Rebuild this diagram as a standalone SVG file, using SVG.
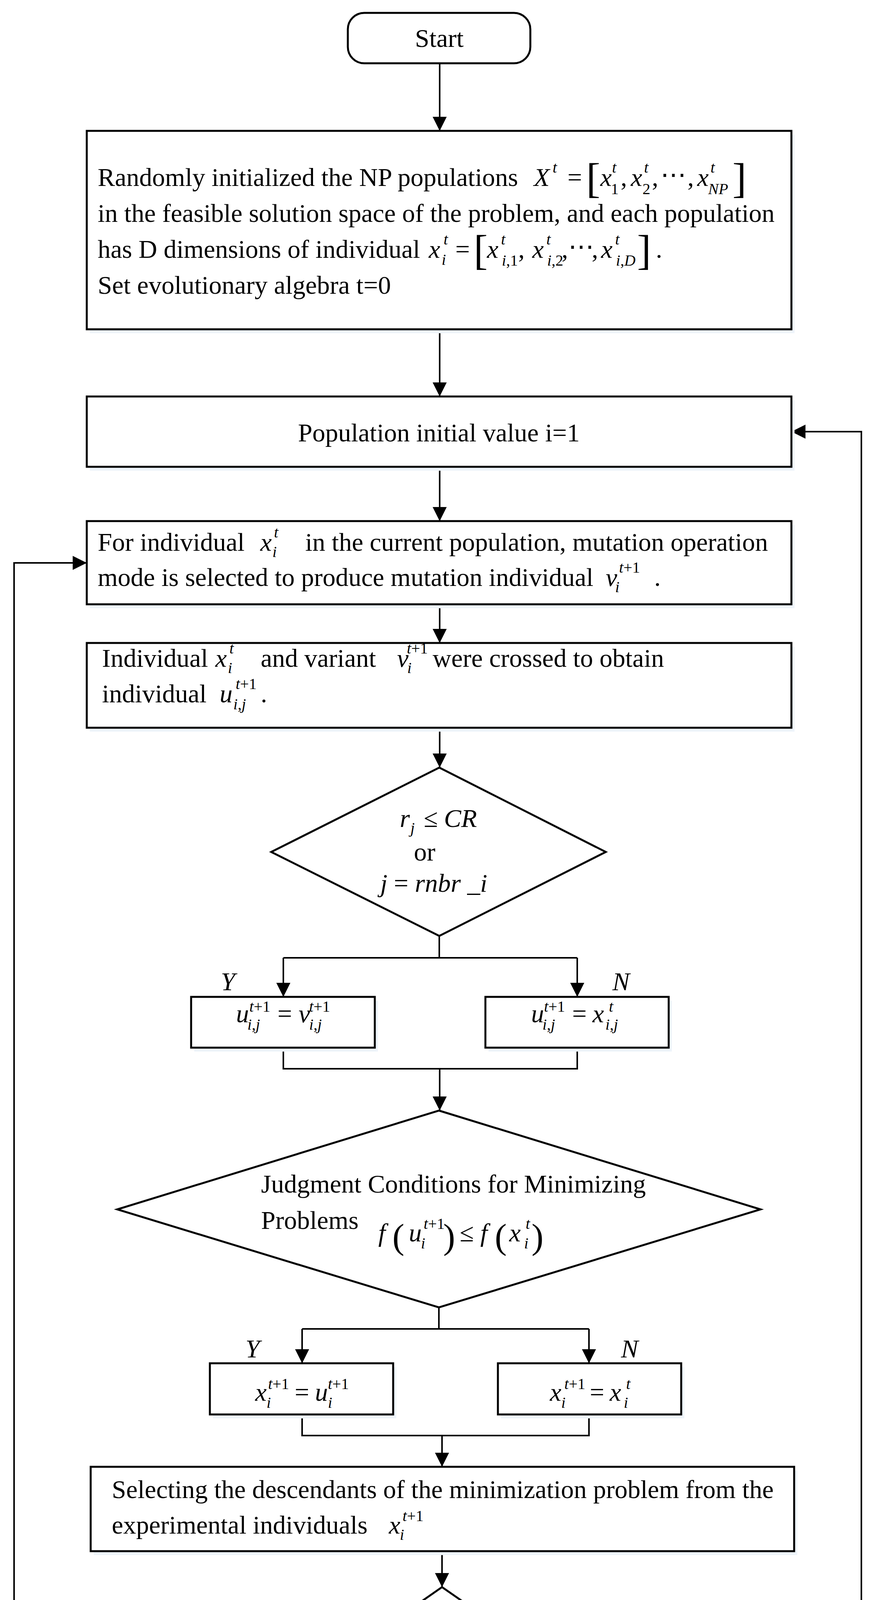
<svg xmlns="http://www.w3.org/2000/svg" width="2244" height="5654" viewBox="0 0 2244 5654">
<style>
.bg{fill:#fff}
.box{fill:#fff;stroke:#000;stroke-width:5}
.sh{fill:#eef4fa}
.ln{fill:none;stroke:#000;stroke-width:4}
.t{font-family:"Liberation Serif","Times New Roman",serif;font-size:66px;fill:#000}
.i{font-style:italic}
.s{font-size:40px}
.br{font-size:108px}
.pr{font-size:92px}
.c{text-anchor:middle}
</style>
<defs>
<marker id="ah" markerUnits="userSpaceOnUse" markerWidth="36" markerHeight="36" refX="36" refY="18" orient="auto" viewBox="0 0 36 36">
<path d="M0,0 L36,18 L0,36 z" fill="#000"/>
</marker>
</defs>
<rect class="bg" x="0" y="0" width="2244" height="5654"/>

<g id="connectors">
<path class="ln" d="M1125,162 V335" marker-end="url(#ah)"/>
<path class="ln" d="M1125,843 V1015" marker-end="url(#ah)"/>
<path class="ln" d="M1125,1195 V1334" marker-end="url(#ah)"/>
<path class="ln" d="M1125,1547 V1646" marker-end="url(#ah)"/>
<path class="ln" d="M1125,1863 V1965" marker-end="url(#ah)"/>
<path class="ln" d="M1124,2396 V2452"/>
<path class="ln" d="M725,2452 H1477"/>
<path class="ln" d="M725,2452 V2552" marker-end="url(#ah)"/>
<path class="ln" d="M1477,2452 V2552" marker-end="url(#ah)"/>
<path class="ln" d="M725,2682 V2736 H1477 V2682"/>
<path class="ln" d="M1125,2736 V2843" marker-end="url(#ah)"/>
<path class="ln" d="M1123,3347 V3402"/>
<path class="ln" d="M773,3402 H1507"/>
<path class="ln" d="M773,3402 V3490" marker-end="url(#ah)"/>
<path class="ln" d="M1507,3402 V3490" marker-end="url(#ah)"/>
<path class="ln" d="M773,3621 V3675 H1507 V3621"/>
<path class="ln" d="M1131,3675 V3755" marker-end="url(#ah)"/>
<path class="ln" d="M1131,3971 V4063" marker-end="url(#ah)"/>
<path class="ln" d="M820,4280 H36 V1441 H222" marker-end="url(#ah)"/>
<path class="ln" d="M1131,4497 V4589" marker-end="url(#ah)"/>
<path class="ln" d="M1131,4705 V4826" marker-end="url(#ah)"/>
<path class="ln" d="M1677,5043 H2204 V1105 H2025" marker-end="url(#ah)"/>
<path class="ln" d="M1131,5260 V5404" marker-end="url(#ah)"/>
<text class="t i" x="565" y="2535">Y</text>
<text class="t i" x="1567" y="2535">N</text>
<text class="t i" x="628" y="3475">Y</text>
<text class="t i" x="1589" y="3475">N</text>
<text class="t i" x="751" y="4248">Y</text>
<text class="t i" x="1173" y="4554">N</text>
<text class="t i" x="1724" y="5026">N</text>
<text class="t i" x="1195" y="5352">Y</text>
</g>

<g id="start">
<rect class="box" x="890" y="33" width="467" height="129" rx="42"/>
<text class="t c" x="1124" y="120">Start</text>
</g>

<g id="init">
<rect class="sh" x="230" y="345" width="1803" height="508"/>
<rect class="box" x="222" y="335" width="1803" height="508"/>
<text class="t" x="250" y="476">Randomly initialized the NP populations</text>
<text class="t i" x="1366" y="476">X</text>
<text class="t i s" x="1414" y="442">t</text>
<text class="t" x="1452" y="476">=</text>
<text class="t br" x="1500" y="493">[</text>
<text class="t i" x="1536" y="476">x</text>
<text class="t i s" x="1566" y="442">t</text>
<text class="t s" x="1563" y="497">1</text>
<text class="t" x="1588" y="476">,</text>
<text class="t i" x="1614" y="476">x</text>
<text class="t i s" x="1648" y="442">t</text>
<text class="t s" x="1644" y="497">2</text>
<text class="t" x="1668" y="476">,</text>
<text class="t" x="1690" y="470" font-family="DejaVu Serif" font-size="44">⋯</text>
<text class="t" x="1759" y="476">,</text>
<text class="t i" x="1784" y="476">x</text>
<text class="t i s" x="1818" y="442">t</text>
<text class="t i s" x="1812" y="497">NP</text>
<text class="t br" x="1874" y="493">]</text>
<text class="t" x="250" y="568">in the feasible solution space of the problem, and each population</text>
<text class="t" x="250" y="660">has D dimensions of individual</text>
<text class="t i" x="1097" y="660">x</text>
<text class="t i s" x="1135" y="626">t</text>
<text class="t i s" x="1130" y="678">i</text>
<text class="t" x="1165" y="660">=</text>
<text class="t br" x="1212" y="677">[</text>
<text class="t i" x="1246" y="660">x</text>
<text class="t i s" x="1282" y="626">t</text>
<text class="t s" x="1284" y="680"><tspan class="i">i</tspan>,1</text>
<text class="t" x="1326" y="660">,</text>
<text class="t i" x="1362" y="660">x</text>
<text class="t i s" x="1398" y="626">t</text>
<text class="t s" x="1400" y="680"><tspan class="i">i</tspan>,2</text>
<text class="t" x="1437" y="660">,</text>
<text class="t" x="1454" y="654" font-family="DejaVu Serif" font-size="44">⋯</text>
<text class="t" x="1514" y="660">,</text>
<text class="t i" x="1538" y="660">x</text>
<text class="t i s" x="1574" y="626">t</text>
<text class="t i s" x="1576" y="680">i<tspan font-style="normal">,</tspan>D</text>
<text class="t br" x="1630" y="677">]</text>
<text class="t" x="1678" y="660">.</text>
<text class="t" x="250" y="752">Set evolutionary algebra t=0</text>
</g>

<g id="pop-init">
<rect class="sh" x="230" y="1025" width="1803" height="180"/>
<rect class="box" x="222" y="1015" width="1803" height="180"/>
<text class="t c" x="1123" y="1130">Population initial value i=1</text>
</g>

<g id="mutation">
<rect class="sh" x="230" y="1344" width="1803" height="213"/>
<rect class="box" x="222" y="1334" width="1803" height="213"/>
<text class="t" x="250" y="1410">For individual</text>
<text class="t i" x="666" y="1410">x</text>
<text class="t i s" x="701" y="1376">t</text>
<text class="t i s" x="697" y="1426">i</text>
<text class="t" x="781" y="1410">in the current population, mutation operation</text>
<text class="t" x="250" y="1500">mode is selected to produce mutation individual</text>
<text class="t i" x="1550" y="1500">v</text>
<text class="t s" x="1584" y="1466"><tspan class="i">t</tspan>+1</text>
<text class="t i s" x="1574" y="1516">i</text>
<text class="t" x="1674" y="1500">.</text>
</g>

<g id="crossover">
<rect class="sh" x="230" y="1656" width="1803" height="217"/>
<rect class="box" x="222" y="1646" width="1803" height="217"/>
<text class="t" x="261" y="1707">Individual</text>
<text class="t i" x="551" y="1707">x</text>
<text class="t i s" x="587" y="1673">t</text>
<text class="t i s" x="583" y="1723">i</text>
<text class="t" x="667" y="1707">and variant</text>
<text class="t i" x="1016" y="1707">v</text>
<text class="t s" x="1041" y="1673"><tspan class="i">t</tspan>+1</text>
<text class="t i s" x="1042" y="1723">i</text>
<text class="t" x="1107" y="1707">were crossed to obtain</text>
<text class="t" x="261" y="1798">individual</text>
<text class="t i" x="562" y="1798">u</text>
<text class="t s" x="603" y="1764"><tspan class="i">t</tspan>+1</text>
<text class="t i s" x="597" y="1816">i<tspan font-style="normal">,</tspan>j</text>
<text class="t" x="667" y="1798">.</text>
</g>

<g id="decision-cr">
<polygon class="box" points="1124,1965 1550,2181 1124,2396 694,2181"/>
<text class="t i" x="1023" y="2117">r</text>
<text class="t i s" x="1050" y="2133">j</text>
<text class="t" x="1084" y="2117">≤</text>
<text class="t i" x="1136" y="2117">CR</text>
<text class="t" x="1059" y="2203">or</text>
<text class="t" x="973" y="2283"><tspan class="i">j</tspan> = <tspan class="i">rnbr</tspan> _<tspan class="i">i</tspan></text>
</g>

<g id="u-eq-v">
<rect class="sh" x="497" y="2562" width="470" height="130"/>
<rect class="box" x="489" y="2552" width="470" height="130"/>
<text class="t i" x="604" y="2617">u</text>
<text class="t s" x="638" y="2590"><tspan class="i">t</tspan>+1</text>
<text class="t i s" x="633" y="2636">i<tspan font-style="normal">,</tspan>j</text>
<text class="t" x="710" y="2617">=</text>
<text class="t i" x="764" y="2617">v</text>
<text class="t s" x="791" y="2590"><tspan class="i">t</tspan>+1</text>
<text class="t i s" x="791" y="2636">i<tspan font-style="normal">,</tspan>j</text>
</g>

<g id="u-eq-x">
<rect class="sh" x="1250" y="2562" width="469" height="130"/>
<rect class="box" x="1242" y="2552" width="469" height="130"/>
<text class="t i" x="1359" y="2617">u</text>
<text class="t s" x="1392" y="2590"><tspan class="i">t</tspan>+1</text>
<text class="t i s" x="1388" y="2636">i<tspan font-style="normal">,</tspan>j</text>
<text class="t" x="1464" y="2617">=</text>
<text class="t i" x="1516" y="2617">x</text>
<text class="t i s" x="1558" y="2590">t</text>
<text class="t i s" x="1549" y="2636">i<tspan font-style="normal">,</tspan>j</text>
</g>

<g id="decision-min">
<polygon class="box" points="1123,2843 1946,3096 1123,3347 300,3096"/>
<text class="t" x="668" y="3053">Judgment Conditions for Minimizing</text>
<text class="t" x="668" y="3146">Problems</text>
<text class="t i" x="968" y="3178">f</text>
<text class="t pr" x="1004" y="3196">(</text>
<text class="t i" x="1046" y="3178">u</text>
<text class="t s" x="1084" y="3146"><tspan class="i">t</tspan>+1</text>
<text class="t i s" x="1077" y="3196">i</text>
<text class="t pr" x="1134" y="3196">)</text>
<text class="t" x="1176" y="3178">≤</text>
<text class="t i" x="1229" y="3178">f</text>
<text class="t pr" x="1266" y="3196">(</text>
<text class="t i" x="1303" y="3178">x</text>
<text class="t i s" x="1345" y="3146">t</text>
<text class="t i s" x="1341" y="3196">i</text>
<text class="t pr" x="1360" y="3196">)</text>
</g>

<g id="x-eq-u">
<rect class="sh" x="545" y="3500" width="469" height="131"/>
<rect class="box" x="537" y="3490" width="469" height="131"/>
<text class="t i" x="653" y="3586">x</text>
<text class="t s" x="686" y="3556"><tspan class="i">t</tspan>+1</text>
<text class="t i s" x="682" y="3604">i</text>
<text class="t" x="754" y="3586">=</text>
<text class="t i" x="806" y="3586">u</text>
<text class="t s" x="839" y="3556"><tspan class="i">t</tspan>+1</text>
<text class="t i s" x="839" y="3604">i</text>
</g>

<g id="x-eq-x">
<rect class="sh" x="1282" y="3500" width="469" height="131"/>
<rect class="box" x="1274" y="3490" width="469" height="131"/>
<text class="t i" x="1407" y="3586">x</text>
<text class="t s" x="1444" y="3556"><tspan class="i">t</tspan>+1</text>
<text class="t i s" x="1436" y="3604">i</text>
<text class="t" x="1509" y="3586">=</text>
<text class="t i" x="1560" y="3586">x</text>
<text class="t i s" x="1602" y="3556">t</text>
<text class="t i s" x="1596" y="3604">i</text>
</g>

<g id="select">
<rect class="sh" x="240" y="3765" width="1800" height="216"/>
<rect class="box" x="232" y="3755" width="1800" height="216"/>
<text class="t" x="286" y="3835">Selecting the descendants of the minimization problem from the</text>
<text class="t" x="286" y="3926">experimental individuals</text>
<text class="t i" x="995" y="3926">x</text>
<text class="t s" x="1030" y="3894"><tspan class="i">t</tspan>+1</text>
<text class="t i s" x="1023" y="3942">i</text>
</g>

<g id="decision-j">
<polygon class="box" points="1131,4063 1443,4280 1131,4497 820,4280"/>
<text class="t c" x="1131" y="4245"><tspan class="i">j</tspan> = <tspan class="i">j</tspan> + 1</text>
<text class="t c" x="1131" y="4359"><tspan class="i">j</tspan> ≤ <tspan class="i">NP</tspan></text>
</g>

<g id="t-inc">
<rect class="sh" x="764" y="4599" width="751" height="116"/>
<rect class="box" x="756" y="4589" width="751" height="116"/>
<text class="t c" x="1131" y="4662"><tspan class="i">t</tspan> = <tspan class="i">t</tspan> + 1</text>
</g>

<g id="decision-term">
<polygon class="box" points="1131,4826 1677,5043 1131,5260 584,5043"/>
<text class="t c" x="1131" y="4989">Determine whether</text>
<text class="t c" x="1131" y="5062">termination conditions are</text>
<text class="t c" x="1131" y="5136">met</text>
</g>

<g id="output">
<rect class="sh" x="555" y="5414" width="1170" height="218"/>
<rect class="box" x="547" y="5404" width="1170" height="218"/>
<text class="t c" x="1133" y="5492">Output the optimal solution and terminate</text>
<text class="t c" x="1133" y="5569">the iteration process</text>
</g>
</svg>
